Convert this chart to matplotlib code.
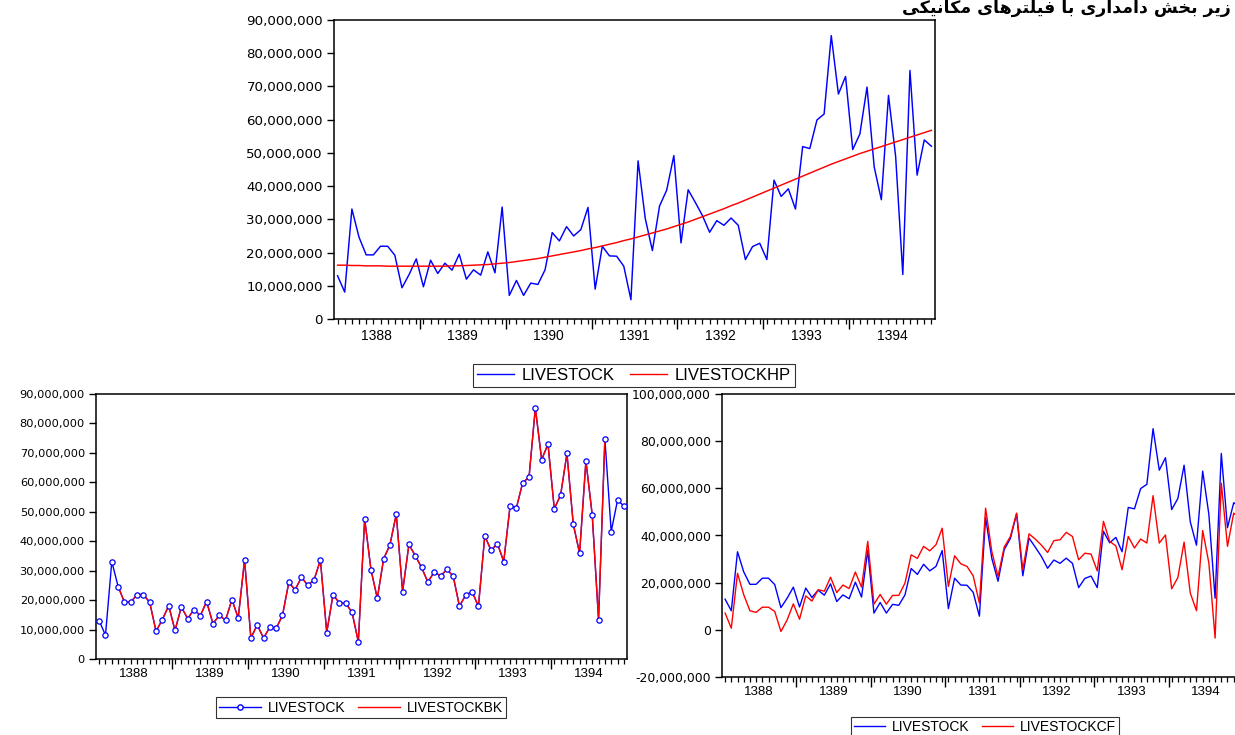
import numpy as np
import matplotlib
matplotlib.use('Agg')
import matplotlib.pyplot as plt
from matplotlib.ticker import FuncFormatter
from matplotlib.lines import Line2D
from matplotlib.transforms import offset_copy

# ---------------- data (values in millions) ----------------
years = ['1388', '1389', '1390', '1391', '1392', '1393', '1394']

livestock = [13.0, 8.1, 33.1, 24.6, 19.3, 19.3, 21.9, 21.9, 19.2, 9.4,
             13.4, 18.1, 9.7, 17.7, 13.7, 16.8, 14.7, 19.5, 12.0, 14.8,
             13.2, 20.2, 13.9, 33.7, 7.1, 11.6, 7.1, 10.8, 10.4, 14.8,
             26.0, 23.5, 27.8, 25.0, 26.9, 33.6, 9.0, 21.9, 19.0, 18.9,
             15.9, 5.8, 47.6, 30.3, 20.6, 34.0, 38.8, 49.2, 22.9, 38.9,
             35.1, 31.1, 26.1, 29.6, 28.2, 30.4, 28.2, 17.9, 21.8, 22.8,
             17.9, 41.8, 36.9, 39.2, 33.1, 51.9, 51.3, 59.9, 61.7, 85.3,
             67.7, 73.0, 51.0, 55.7, 69.8, 45.8, 35.9, 67.3, 48.9, 13.4,
             74.8, 43.3, 53.9, 52.0]

livestock_hp = [16.2, 16.2, 16.1, 16.1, 16.0, 16.0, 16.0, 15.9, 15.9, 15.9, 15.9, 15.9,
                15.9, 15.9, 15.9, 15.9, 16.0, 16.0, 16.1, 16.2, 16.3, 16.4, 16.6, 16.8,
                17.0, 17.3, 17.6, 17.9, 18.2, 18.6, 19.0, 19.4, 19.8, 20.2, 20.6, 21.1,
                21.5, 22.0, 22.5, 23.0, 23.6, 24.1, 24.7, 25.3, 25.9, 26.5, 27.1, 27.8,
                28.5, 29.2, 30.0, 30.8, 31.6, 32.4, 33.2, 34.1, 34.9, 35.8, 36.7, 37.6,
                38.5, 39.4, 40.3, 41.2, 42.1, 43.0, 43.9, 44.8, 45.7, 46.6, 47.4, 48.2,
                49.0, 49.8, 50.5, 51.2, 51.9, 52.6, 53.3, 54.0, 54.7, 55.4, 56.1, 56.8]

# BK series: observed from obs 4 to obs 81 (it coincides with LIVESTOCK there)
bk_first, bk_last = 4, 81

livestock_cf = [7.1, 0.7, 24.0, 14.9, 8.1, 7.4, 9.6, 9.6, 7.8, -0.7,
                4.2, 11.0, 4.5, 14.4, 12.2, 17.0, 16.4, 22.3, 15.8, 19.0,
                17.5, 24.5, 18.1, 37.5, 10.9, 15.0, 10.9, 14.6, 14.6, 19.8,
                31.8, 30.3, 35.4, 33.5, 36.1, 43.1, 18.4, 31.4, 28.0, 26.9,
                22.9, 11.3, 51.6, 33.2, 22.6, 35.1, 39.6, 49.5, 25.5, 40.7,
                38.5, 35.9, 32.8, 37.8, 38.2, 41.3, 39.6, 29.7, 32.5, 32.1,
                25.0, 46.0, 37.5, 35.6, 25.5, 39.6, 34.7, 38.5, 36.8, 56.9,
                36.8, 40.2, 17.4, 22.2, 37.2, 15.6, 8.1, 42.1, 28.3, -3.5,
                62.2, 35.4, 49.5, 47.0]

title_fa = "زیر بخش دامداری با فیلترهای مکانیکی"

# ---------------- helpers ----------------
M = 1e6
n = len(livestock)
t = np.arange(1, n + 1)
ls = np.array(livestock) * M
hp = np.array(livestock_hp) * M
cf = np.array(livestock_cf) * M
bk_t = t[bk_first - 1:bk_last]
bk = ls[bk_first - 1:bk_last]

BLUE = '#0000ff'
RED = '#ff0000'

plt.rcParams['font.family'] = ['Liberation Sans', 'DejaVu Sans']
plt.rcParams['axes.linewidth'] = 1.1

fig = plt.figure(figsize=(12.35, 7.35), dpi=100)
W, H = 1235.0, 735.0


def add_axes_px(left, top, right, bottom):
    return fig.add_axes([left / W, 1 - bottom / H, (right - left) / W, (bottom - top) / H])


def style(ax, ylim, yticks, ysize, xsize, xoff):
    ax.set_xlim(0.5, n + 0.5)
    ax.set_ylim(*ylim)
    ax.set_yticks(yticks)
    ax.yaxis.set_major_formatter(FuncFormatter(lambda v, p: f'{int(round(v)):,}'))
    ax.tick_params(axis='y', direction='out', length=5, width=1, labelsize=ysize, pad=3)
    for lab in ax.get_yticklabels():
        lab.set_family(['DejaVu Sans'])
    bounds = [12 * k + 0.5 for k in range(1, len(years))]
    ax.set_xticks(bounds)
    ax.set_xticklabels([])
    ax.set_xticks(t, minor=True)
    ax.tick_params(axis='x', which='major', direction='out', length=7, width=1)
    ax.tick_params(axis='x', which='minor', direction='out', length=3.5, width=0.9)
    trans = offset_copy(ax.get_xaxis_transform(), fig=fig, y=-xoff, units='dots')
    for k, yl in enumerate(years):
        ax.text(12 * k + 6.5, 0, yl, transform=trans, ha='center', va='center',
                fontsize=xsize)
    for s in ax.spines.values():
        s.set_color('black')


def legend(handles, labels, cx, cy, size, hl=2.2):
    lg = fig.legend(handles, labels, loc='center', bbox_to_anchor=(cx / W, 1 - cy / H),
                    ncol=2, fontsize=size, frameon=True, fancybox=False,
                    edgecolor='black', borderpad=0.25, handlelength=hl,
                    handletextpad=0.5, columnspacing=0.9, borderaxespad=0)
    lg.get_frame().set_linewidth(0.8)
    return lg


# ---------------- top panel ----------------
ax1 = add_axes_px(334, 20, 935, 319)
ax1.plot(t, ls, color=BLUE, lw=1.05)
ax1.plot(t, hp, color=RED, lw=1.05)
style(ax1, (0, 90 * M), np.arange(0, 91, 10) * M, 9.6, 10, 17)
legend([Line2D([], [], color=BLUE, lw=1), Line2D([], [], color=RED, lw=1)],
       ['LIVESTOCK', 'LIVESTOCKHP'], 634, 375.5, 12)

# ---------------- bottom-left panel ----------------
ax2 = add_axes_px(96, 394, 627, 659)
ax2.plot(t, ls, color=BLUE, lw=1.0, zorder=2)
ax2.plot(bk_t, bk, color=RED, lw=1.0, zorder=3)
ax2.plot(t, ls, ls='none', marker='o', ms=3.8, mfc='white', mec=BLUE, mew=0.9, zorder=4)
style(ax2, (0, 90 * M), np.arange(0, 91, 10) * M, 8.2, 9.5, 15)
legend([Line2D([], [], color=BLUE, lw=1, marker='o', ms=3.8, mfc='white', mec=BLUE),
        Line2D([], [], color=RED, lw=1)],
       ['LIVESTOCK', 'LIVESTOCKBK'], 361, 707.5, 10, hl=3.0)

# ---------------- bottom-right panel ----------------
ax3 = add_axes_px(722, 394, 1243, 677)
ax3.plot(t, ls, color=BLUE, lw=1.0)
ax3.plot(t, cf, color=RED, lw=1.0)
style(ax3, (-20 * M, 100 * M), np.arange(-20, 101, 20) * M, 8.9, 9.5, 15)
legend([Line2D([], [], color=BLUE, lw=1), Line2D([], [], color=RED, lw=1)],
       ['LIVESTOCK', 'LIVESTOCKCF'], 985, 727, 10)


# ---------------- Persian heading ----------------
def shape_fa(text):
    forms = {
        'ا': ('\uFE8D', '\uFE8E', None, None), 'ب': ('\uFE8F', '\uFE90', '\uFE91', '\uFE92'),
        'ت': ('\uFE95', '\uFE96', '\uFE97', '\uFE98'), 'خ': ('\uFEA5', '\uFEA6', '\uFEA7', '\uFEA8'),
        'د': ('\uFEA9', '\uFEAA', None, None), 'ر': ('\uFEAD', '\uFEAE', None, None),
        'ز': ('\uFEAF', '\uFEB0', None, None), 'ش': ('\uFEB5', '\uFEB6', '\uFEB7', '\uFEB8'),
        'ف': ('\uFED1', '\uFED2', '\uFED3', '\uFED4'), 'ک': ('\uFB8E', '\uFB8F', '\uFB90', '\uFB91'),
        'م': ('\uFEE1', '\uFEE2', '\uFEE3', '\uFEE4'), 'ه': ('\uFEE9', '\uFEEA', '\uFEEB', '\uFEEC'),
        'ی': ('\uFBFC', '\uFBFD', '\uFBFE', '\uFBFF'), 'ن': ('\uFEE5', '\uFEE6', '\uFEE7', '\uFEE8'),
        'ل': ('\uFEDD', '\uFEDE', '\uFEDF', '\uFEE0'), 'و': ('\uFEED', '\uFEEE', None, None),
    }
    out = []
    for i, c in enumerate(text):
        if c not in forms:
            out.append(c)
            continue
        prev = text[i - 1] if i > 0 else ' '
        nxt = text[i + 1] if i + 1 < len(text) else ' '
        jp = prev in forms and forms[prev][2] is not None
        jn = forms[c][2] is not None and nxt in forms
        iso, fin, ini, med = forms[c]
        if jp and jn:
            out.append(med)
        elif jp:
            out.append(fin)
        elif jn:
            out.append(ini)
        else:
            out.append(iso)
    return ''.join(out)[::-1]


fig.text(1231 / W, 1 - 13 / H, shape_fa(title_fa), ha='right', va='baseline',
         fontsize=12.5, fontweight='bold', family=['DejaVu Sans'], color='black')

fig.savefig('out.png', dpi=100)
